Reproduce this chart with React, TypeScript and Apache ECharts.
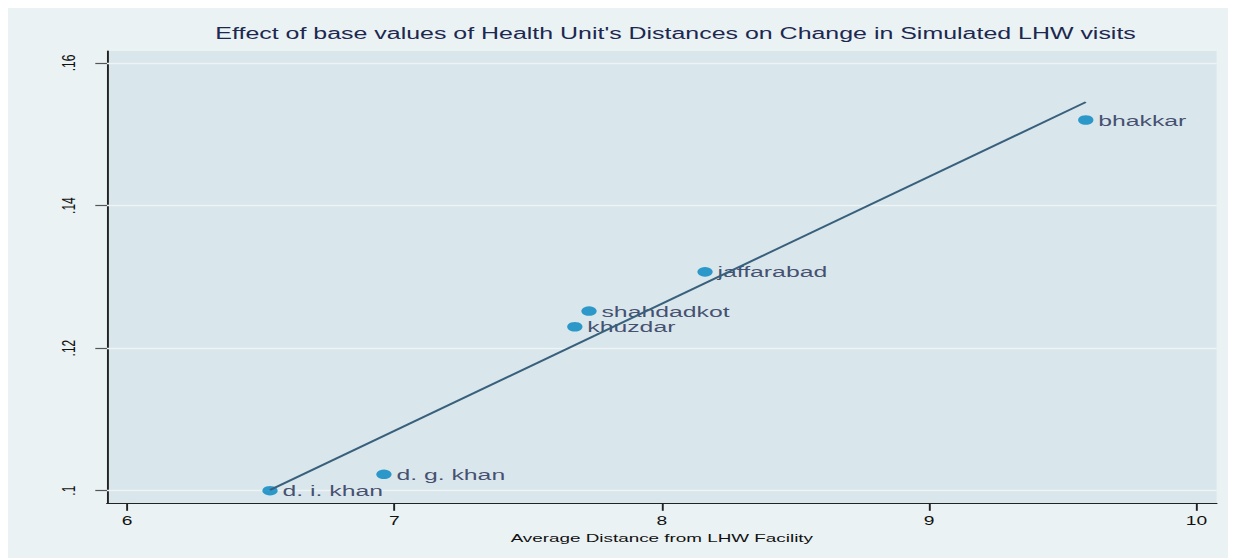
import React, { useEffect, useRef } from "react";
import * as echarts from "echarts";

// ---- data ----
const districts = ["d. i. khan", "d. g. khan", "khuzdar", "shahdadkot", "jaffarabad", "bhakkar"];
const avgDistance = [6.535, 6.961, 7.675, 7.728, 8.162, 9.586];
const visitChange = [0.1, 0.1023, 0.123, 0.1252, 0.1307, 0.152];
// fitted line end points
const fitX = [6.535, 9.586];
const fitY = [0.1001, 0.1545];

const xTickValues = [6, 7, 8, 9, 10];
const xTickLabels = ["6", "7", "8", "9", "10"];
const yTickValues = [0.1, 0.12, 0.14, 0.16];
const yTickLabels = [".1", ".12", ".14", ".16"];

const titleText = "Effect of base values of Health Unit's Distances on Change in Simulated LHW visits";
const xAxisTitle = "Average Distance from LHW Facility";

// ---- layout ----
const OUT_W = 1228;
const H = 550;
const W = 768;
const S = OUT_W / W; // horizontal stretch of the original picture
const FONT = '"Liberation Sans", Arial, Helvetica, sans-serif';

export default function App() {
  const ref = useRef<HTMLDivElement>(null);
  useEffect(() => {
    document.documentElement.style.overflow = "hidden";
    document.body.style.overflow = "hidden";
    const chart = echarts.init(ref.current as HTMLDivElement, null, { renderer: "svg" });
    const option: any = {
      animation: false,
      backgroundColor: "#eaf2f3",
      textStyle: { fontFamily: FONT },
      graphic: [
        {
          type: "text",
          x: 417.5,
          y: 17.3,
          silent: true,
          style: {
            text: titleText,
            fill: "#1c2850",
            font: `15.6px ${FONT}`,
            align: "center",
            verticalAlign: "top",
            textAlign: "center",
            textVerticalAlign: "top",
          },
        },
      ],
      grid: {
        left: 61.9,
        right: 12.1,
        top: 43,
        bottom: 54.7,
        show: true,
        backgroundColor: "#d9e6eb",
        borderWidth: 0,
        containLabel: false,
      },
      xAxis: {
        type: "value",
        min: 5.9252,
        max: 10.0755,
        name: xAxisTitle,
        nameLocation: "middle",
        nameGap: 24.5,
        nameTextStyle: { fontSize: 11.8, color: "#111", fontFamily: FONT },
        axisLine: { show: true, onZero: false, lineStyle: { color: "#222", width: 1.2 } },
        axisTick: {
          show: true,
          customValues: xTickValues,
          length: 7.5,
          lineStyle: { color: "#222", width: 1.2 },
        },
        axisLabel: {
          customValues: xTickValues,
          margin: 12,
          fontSize: 12,
          color: "#111",
          fontFamily: FONT,
          formatter: (v: number) => {
            const i = xTickValues.findIndex((t) => Math.abs(t - v) < 1e-9);
            return i >= 0 ? xTickLabels[i] : "";
          },
        },
        splitLine: { show: false },
      },
      yAxis: {
        type: "value",
        min: 0.09823,
        max: 0.16168,
        axisLine: { show: true, onZero: false, lineStyle: { color: "#222", width: 1.2 } },
        axisTick: {
          show: true,
          customValues: yTickValues,
          length: 7.3,
          lineStyle: { color: "#555", width: 1.2 },
        },
        axisLabel: {
          customValues: yTickValues,
          rotate: 90,
          margin: 18,
          fontSize: 12,
          color: "#111",
          fontFamily: FONT,
          formatter: (v: number) => {
            const i = yTickValues.findIndex((t) => Math.abs(t - v) < 1e-9);
            return i >= 0 ? yTickLabels[i] : "";
          },
        },
        splitLine: { show: false },
      },
      series: [
        {
          type: "line",
          name: "grid",
          data: [],
          z: 1,
          silent: true,
          markLine: {
            z: 1,
            silent: true,
            symbol: ["none", "none"],
            label: { show: false },
            lineStyle: { color: "#eef4f6", width: 1.3, type: "solid" },
            emphasis: { disabled: true },
            data: yTickValues.map((v) => ({ yAxis: v })),
          },
        },
        {
          type: "scatter",
          name: "districts",
          z: 3,
          symbol: "circle",
          symbolSize: 9.6,
          itemStyle: { color: "#0085c2" },
          label: {
            show: true,
            position: "right",
            distance: 3,
            formatter: "{b}",
            fontSize: 15.5,
            color: "#1c2850",
            fontFamily: FONT,
          },
          data: districts.map((d, i) => ({ name: d, value: [avgDistance[i], visitChange[i]] })),
        },
        {
          type: "line",
          name: "fit",
          z: 4,
          symbol: "none",
          lineStyle: { color: "#38607c", width: 1.7 },
          data: fitX.map((x, i) => [x, fitY[i]]),
        },
      ],
    };
    chart.setOption(option);
    return () => chart.dispose();
  }, []);

  return (
    <div style={{ width: OUT_W, height: H, overflow: "hidden" }}>
      <div
        ref={ref}
        style={{ width: W, height: H, transform: `scaleX(${S})`, transformOrigin: "0 0" }}
      />
    </div>
  );
}
